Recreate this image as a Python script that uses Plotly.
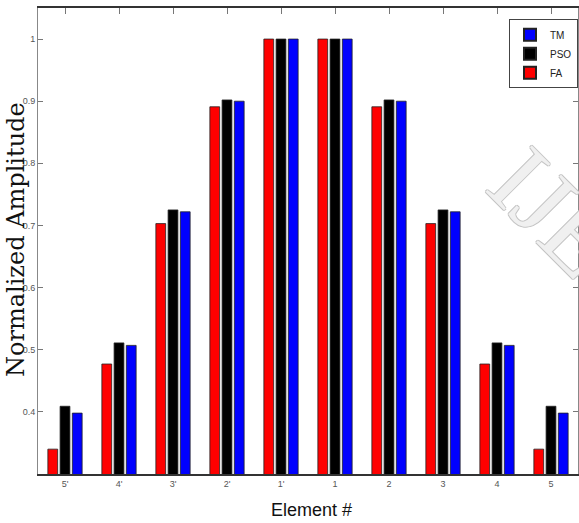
import plotly.graph_objects as go

elements = ["5'", "4'", "3'", "2'", "1'", "1", "2", "3", "4", "5"]
fa = [0.340, 0.477, 0.703, 0.891, 1.0, 1.0, 0.891, 0.703, 0.477, 0.340]
pso = [0.409, 0.511, 0.725, 0.902, 1.0, 1.0, 0.902, 0.725, 0.511, 0.409]
tm = [0.398, 0.507, 0.722, 0.900, 1.0, 1.0, 0.900, 0.722, 0.507, 0.398]
yticks = [0.4, 0.5, 0.6, 0.7, 0.8, 0.9, 1.0]
ytick_labels = ["0.4", "0.5", "0.6", "0.7", "0.8", "0.9", "1"]

fig = go.Figure()
edge = dict(color="#222222", width=0.8)
fig.add_trace(go.Bar(x=elements, y=fa, name="FA", marker=dict(color="#ff0000", line=edge)))
fig.add_trace(go.Bar(x=elements, y=pso, name="PSO", marker=dict(color="#000000", line=edge)))
fig.add_trace(go.Bar(x=elements, y=tm, name="TM", marker=dict(color="#0000ff", line=edge)))

tickfont = dict(family="Liberation Sans Narrow, Arial Narrow, sans-serif", size=9, color="#555555")
fig.update_layout(
    width=579, height=523,
    margin=dict(l=38, r=1, t=8, b=49),
    paper_bgcolor="white", plot_bgcolor="white",
    barmode="group", bargap=0.32, bargroupgap=0.2,
    showlegend=True,
    legend=dict(x=1.0, xanchor="right", y=0.976, yanchor="top",
                traceorder="reversed", bgcolor="white",
                bordercolor="#444444", borderwidth=1,
                font=dict(family="Liberation Sans Narrow, Arial Narrow, sans-serif", size=10, color="#222"),
                itemsizing="constant", tracegroupgap=0, itemwidth=30),
    xaxis=dict(type="category", range=[-0.5, 9.5], showline=True, linecolor="#333333", linewidth=1.5,
               mirror="ticks", ticks="inside", ticklen=6, tickcolor="#777777", layer="below traces",
               tickfont=tickfont, showgrid=False, zeroline=False),
    yaxis=dict(range=[0.3, 1.05], tickvals=yticks, ticktext=ytick_labels, showline=True,
               linecolor="#888888", linewidth=1, mirror="ticks", ticks="inside", ticklen=5,
               tickcolor="#777777", tickfont=tickfont, showgrid=False, zeroline=False),
    font=dict(family="Liberation Sans Narrow, sans-serif"),
)

fig.add_annotation(text="IJERT", xref="paper", yref="paper", x=1.034, y=0.468,
                   xanchor="center", yanchor="middle", showarrow=False, textangle=45,
                   font=dict(family="Liberation Serif, serif", size=100, color="#f0f0f0",
                             shadow="-1px 0 #c4c4c4, 1px 0 #c4c4c4, 0 1px #c4c4c4, 0 -1px #c4c4c4"))
fig.add_annotation(text="Normalized Amplitude", textangle=-90, xref="paper", yref="paper",
                   x=-0.041, y=0.504, xanchor="center", yanchor="middle", showarrow=False,
                   font=dict(family="DejaVu Serif, serif", size=24, color="#111111"))
fig.add_annotation(text="Element #", xref="paper", yref="paper", x=0.507, y=-0.077,
                   xanchor="center", yanchor="middle", showarrow=False,
                   font=dict(family="Liberation Sans Narrow, Arial Narrow, sans-serif", size=18, color="#111111"))

fig.write_html("out.html", config={"displayModeBar": False},
               post_script="document.body.style.margin='0';document.body.style.overflow='hidden';")
